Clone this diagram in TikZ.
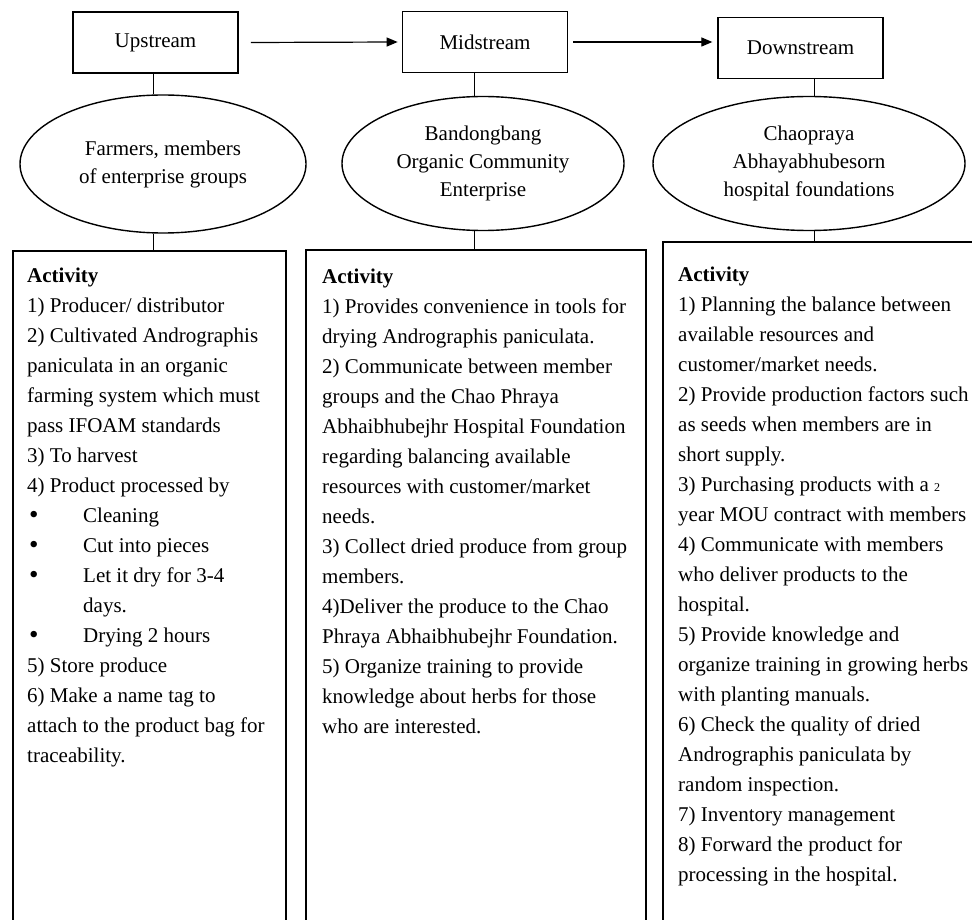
\documentclass[tikz,border=0pt]{standalone}
\usepackage{fontspec}
\setmainfont{Liberation Serif}
\usetikzlibrary{arrows.meta,shapes.geometric}
\newcommand\mybul{\hspace*{2pt}\makebox[54pt][l]{\raisebox{-1.5pt}{\fontsize{27}{27}\selectfont\textbullet}}}
\begin{document}
\begin{tikzpicture}[x=1pt,y=-1pt,
  topbox/.style={draw,line width=1.7pt,minimum width=165pt,minimum height=61pt,inner sep=0,font=\fontsize{21}{28}\selectfont},
  oval/.style={draw,ellipse,line width=1.4pt,inner sep=0,align=center,font=\fontsize{21}{28}\selectfont},
  colbox/.style={draw,line width=1.6pt,anchor=north west,inner sep=0,minimum height=720pt},
  coltext/.style={anchor=base west,inner sep=0,align=left,font=\fontsize{21}{30}\selectfont},
  link/.style={line width=1pt},
  flow/.style={line width=1.2pt,-{Triangle[length=11pt,width=9pt]}}]
\useasboundingbox (0,0) rectangle (972,920);
\clip (0,0) rectangle (972,920);
\fill[white] (0,0) rectangle (972,920);

\node[topbox] (up) at (155.5,42.5) {Upstream};
\node[topbox] (mid) at (485,42) {Midstream};
\node[topbox] (down) at (800.5,48) {Downstream};

\node[oval,minimum width=286pt,minimum height=138pt] (e1) at (163,164) {Farmers, members\\of enterprise groups};
\node[oval,minimum width=282pt,minimum height=134pt] (e2) at (483,163.5) {Bandongbang\\Organic Community\\Enterprise};
\node[oval,minimum width=312pt,minimum height=134pt] (e3) at (809,163.5) {Chaopraya\\Abhayabhubesorn\\hospital foundations};

\node[colbox,minimum width=273pt] (b1) at (12,250) {};
\node[colbox,minimum width=340pt] (b2) at (305,249) {};
\node[colbox,minimum width=340pt] (b3) at (662,241) {};

\coordinate (l1) at (153,0);
\coordinate (l2) at (474,0);
\coordinate (l3) at (814,0);

\draw[link] (up.south -| l1) -- (l1 |- e1.north);
\draw[link] (l1 |- e1.south) -- (l1 |- b1.north);
\draw[link] (mid.south -| l2) -- (l2 |- e2.north);
\draw[link] (l2 |- e2.south) -- (l2 |- b2.north);
\draw[link] (down.south -| l3) -- (l3 |- e3.north);
\draw[link] (l3 |- e3.south) -- (l3 |- b3.north);

\draw[flow] ([xshift=12pt]up.east) -- ([xshift=-4pt]mid.west);
\draw[flow] ([xshift=5pt]mid.east) -- ++(139,0);

% anchor=base west refers to the last line's baseline
\node[coltext] (t1) at (27,762) {\textbf{Activity}\\
1) Producer/ distributor\\
2) Cultivated Andrographis\\
paniculata in an organic\\
farming system which must\\
pass IFOAM standards\\
3) To harvest\\
4) Product processed by\\
\mybul Cleaning\\
\mybul Cut into pieces\\
\mybul Let it dry for 3-4\\
\hspace*{56pt}days.\\
\mybul Drying 2 hours\\
5) Store produce\\
6) Make a name tag to\\
attach to the product bag for\\
traceability.};

\node[coltext] (t2) at (322,733) {\textbf{Activity}\\
1) Provides convenience in tools for\\
drying Andrographis paniculata.\\
2) Communicate between member\\
groups and the Chao Phraya\\
Abhaibhubejhr Hospital Foundation\\
regarding balancing available\\
resources with customer/market\\
needs.\\
3) Collect dried produce from group\\
members.\\
4)Deliver the produce to the Chao\\
Phraya Abhaibhubejhr Foundation.\\
5) Organize training to provide\\
knowledge about herbs for those\\
who are interested.};

\node[coltext] (t3) at (678,881) {\textbf{Activity}\\
1) Planning the balance between\\
available resources and\\
customer/market needs.\\
2) Provide production factors such\\
as seeds when members are in\\
short supply.\\
3) Purchasing products with a {\fontsize{12}{12}\selectfont 2}\\
year MOU contract with members\\
4) Communicate with members\\
who deliver products to the\\
hospital.\\
5) Provide knowledge and\\
organize training in growing herbs\\
with planting manuals.\\
6) Check the quality of dried\\
Andrographis paniculata by\\
random inspection.\\
7) Inventory management\\
8) Forward the product for\\
processing in the hospital.};
\end{tikzpicture}
\end{document}
